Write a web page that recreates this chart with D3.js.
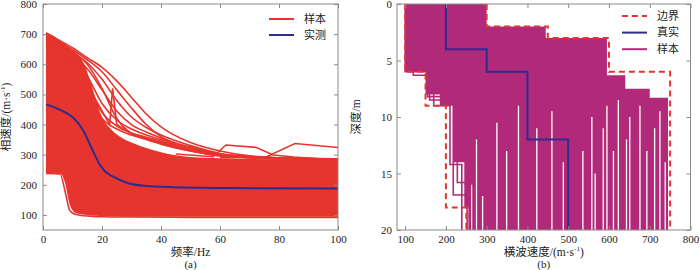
<!DOCTYPE html>
<html>
<head>
<meta charset="utf-8">
<script src="https://cdn.jsdelivr.net/npm/d3@7"></script>
<style>
  body { margin: 0; background: #fff; }
  svg { display: block; }
  text { font-family: "Liberation Serif", "Noto Sans CJK SC", serif; fill: #222; }
</style>
</head>
<body>
<svg id="chart" width="700" height="270"></svg>
<script>
// ---- panel (a): phase velocity vs frequency ----
const freqTicks = [0, 20, 40, 60, 80, 100];
const phaseVelTicks = [100, 200, 300, 400, 500, 600, 700, 800];

// measured dispersion curve
const measuredFreq = [1, 6, 10, 13.6, 16, 19.3, 21, 23.8, 28.4, 35, 44, 64, 100];
const measuredVel = [467, 448, 425, 381, 332, 266, 245, 227, 207, 196, 192, 189, 188];

// dense band of sample curves (upper / lower envelope)
const bandFreq = [1, 3, 6, 7.5, 9, 10.5, 12, 14, 16, 18, 20, 23, 26, 30, 35, 40, 45, 50, 60, 70, 80, 90, 100];
const bandUpper = [705, 697, 677, 667, 655, 643, 630, 600, 545, 480, 425, 385, 360, 340, 322, 308, 298, 292, 288, 286, 285, 285, 285];
const bandLower = [238, 238, 237, 205, 136, 110, 104, 101, 99, 97, 96, 95, 95, 94, 94, 94, 94, 94, 94, 94, 94, 94, 94];

// individual sample curves that stand out above the band
const sampleFreq = [1, 5, 10, 15, 20, 25, 30, 35, 40, 50, 60, 70, 80, 90, 100];
const sampleCurves = [
  [705, 682, 655, 622, 590, 545, 490, 435, 392, 340, 312, 296, 290, 287, 286],
  [700, 676, 648, 615, 575, 515, 455, 400, 360, 325, 302, 294, 290, 287, 285],
  [692, 668, 640, 605, 550, 480, 425, 390, 365, 330, 304, 294, 289, 287, 285],
  [684, 660, 628, 585, 515, 445, 400, 375, 355, 322, 300, 292, 288, 286, 285],
  [676, 650, 615, 560, 470, 415, 385, 365, 350, 318, 298, 291, 288, 286, 285],
  [668, 640, 600, 530, 440, 395, 372, 358, 345, 315, 297, 290, 287, 286, 285],
  [660, 628, 585, 500, 420, 385, 365, 352, 338, 312, 296, 290, 287, 286, 285],
  [700, 670, 640, 600, 520, 420, 370, 350, 335, 312, 296, 290, 287, 286, 285]
];
// the odd ones
const spikeFreq = [12, 18, 22.6, 23.6, 25, 30, 40, 50, 60, 80, 100];
const spikeVel = [600, 480, 400, 520, 400, 370, 340, 315, 298, 289, 286];
const bumpAFreq = [45, 57.7, 62, 72.4, 78, 85, 92];
const bumpAVel = [302, 293, 332, 324, 299, 292, 287];
const bumpBFreq = [60, 75.8, 85.4, 100];
const bumpBVel = [290, 293, 337, 324];
const lowestFreq = [1, 5.8, 7.5, 9, 10.5, 12.5, 16, 20, 30, 50, 100];
const lowestVel = [238, 236, 178, 116, 104, 99, 96, 94, 93, 92, 92];

// ---- panel (b): shear velocity vs depth ----
const shearTicks = [100, 200, 300, 400, 500, 600, 700, 800];
const depthTicks = [0, 5, 10, 15, 20];

// true model
const trueBreaks = [0, 4, 6, 12, 20];
const trueVel = [200, 300, 400, 500];
// search bounds
const upperBreaks = [0, 2, 3, 6, 20];
const upperVel = [300, 450, 600, 750];
const lowerBreaks = [0, 6, 9, 18, 20];
const lowerVel = [100, 150, 200, 250];
// extent covered by the sampled models
const sampleMaxBreaks = [0, 2, 3, 6.3, 7.5, 8.3, 20];
const sampleMaxVel = [300, 445, 595, 640, 700, 745];
const sampleMinBreaks = [0, 6, 8, 9, 14, 18, 20];
const sampleMinVel = [100, 150, 185, 218, 245, 255];
// a few sampled models near the slow edge
const edgeModels = [
  { breaks: [0, 6, 8.2, 16.9, 20], vel: [100, 155, 218, 252] },
  { breaks: [0, 5.9, 9, 14.2, 20], vel: [110, 170, 210, 239] },
  { breaks: [0, 6.3, 8.5, 15.8, 20], vel: [120, 160, 228, 260] },
  { breaks: [0, 3, 7.6, 13, 20], vel: [130, 180, 240, 270] }
];
// velocities where no sampled half-space falls (white streaks), and the depth they start at
const gapVel = [263, 275, 290, 325, 349, 378, 423, 460, 488, 536, 558, 566, 586, 595, 611, 623, 643, 651, 676, 693, 712, 725, 738];
const gapTop = [16, 12, 17, 10.5, 13, 9, 11, 9.5, 14, 13, 10, 15, 11, 9, 13, 8.5, 12, 10, 9, 13, 11, 9.5, 14];

const red = "#e6352e";
const navy = "#2c2d8c";
const magenta = "#b12a7a";
const axisGray = "#8a8a8a";

const svg = d3.select("#chart");

function drawFrame(g, x, y, w, h, xTicks, yTicks, pad) {
  const inner = -4;
  g.append("g")
    .attr("transform", `translate(0,${h})`)
    .call(d3.axisBottom(x).tickValues(xTicks).tickSizeInner(inner).tickSizeOuter(0).tickPadding(5))
    .call(a => a.select(".domain").remove());
  g.append("g")
    .call(d3.axisTop(x).tickValues(xTicks).tickSizeInner(inner).tickSizeOuter(0).tickFormat(""))
    .call(a => a.select(".domain").remove());
  g.append("g")
    .call(d3.axisLeft(y).tickValues(yTicks).tickSizeInner(inner).tickSizeOuter(0).tickPadding(pad))
    .call(a => a.select(".domain").remove());
  g.append("g")
    .attr("transform", `translate(${w},0)`)
    .call(d3.axisRight(y).tickValues(yTicks).tickSizeInner(inner).tickSizeOuter(0).tickFormat(""))
    .call(a => a.select(".domain").remove());
  g.selectAll(".tick line").attr("stroke", axisGray);
  g.selectAll(".tick text").attr("font-size", 11).attr("font-family", "Liberation Serif").attr("fill", "#222");
  g.append("rect")
    .attr("width", w).attr("height", h)
    .attr("fill", "none").attr("stroke", axisGray).attr("stroke-width", 1);
}

function legend(g, items, x0, y0, dy) {
  items.forEach((it, i) => {
    const yy = y0 + i * dy;
    g.append("line")
      .attr("x1", x0).attr("x2", x0 + 25).attr("y1", yy).attr("y2", yy)
      .attr("stroke", it.color).attr("stroke-width", 2)
      .attr("stroke-dasharray", it.dash || null);
    g.append("text")
      .attr("x", x0 + 35).attr("y", yy).attr("dy", "0.35em")
      .attr("font-size", 11).attr("font-family", "Noto Sans CJK SC")
      .text(it.label);
  });
}

// ================= panel (a) =================
const A = { left: 43, top: 4, w: 295, h: 226 };
const xA = d3.scaleLinear().domain([0, 100]).range([0, A.w]);
const yA = d3.scaleLinear().domain([50, 800]).range([A.h, 0]);
const gA = svg.append("g").attr("transform", `translate(${A.left},${A.top})`);

gA.append("clipPath").attr("id", "clipA")
  .append("rect").attr("width", A.w).attr("height", A.h);
const plotA = gA.append("g").attr("clip-path", "url(#clipA)");

const band = bandFreq.map((f, i) => ({ f, hi: bandUpper[i], lo: bandLower[i] }));
plotA.append("path")
  .attr("d", d3.area().curve(d3.curveMonotoneX)
    .x(d => xA(d.f)).y0(d => yA(d.lo)).y1(d => yA(d.hi))(band))
  .attr("fill", red);

const smooth = d3.line().curve(d3.curveMonotoneX).x(d => xA(d[0])).y(d => yA(d[1]));
const straight = d3.line().x(d => xA(d[0])).y(d => yA(d[1]));
const zip = (fs, vs) => fs.map((f, i) => [f, vs[i]]);

plotA.selectAll(".sample")
  .data(sampleCurves)
  .join("path")
  .attr("class", "sample")
  .attr("d", c => smooth(zip(sampleFreq, c)))
  .attr("fill", "none").attr("stroke", red).attr("stroke-width", 1.6);

[[spikeFreq, spikeVel], [bumpAFreq, bumpAVel], [bumpBFreq, bumpBVel]].forEach(([fs, vs]) => {
  plotA.append("path")
    .attr("d", straight(zip(fs, vs)))
    .attr("fill", "none").attr("stroke", red).attr("stroke-width", 1.6);
});
plotA.append("path")
  .attr("d", smooth(zip(lowestFreq, lowestVel)))
  .attr("fill", "none").attr("stroke", red).attr("stroke-width", 1.6);

plotA.append("path")
  .attr("d", smooth(zip(measuredFreq, measuredVel)))
  .attr("fill", "none").attr("stroke", navy).attr("stroke-width", 2);

drawFrame(gA, xA, yA, A.w, A.h, freqTicks, phaseVelTicks, 6);

legend(gA, [
  { label: "样本", color: red },
  { label: "实测", color: navy }
], 226, 15, 16);

gA.append("text")
  .attr("x", A.w / 2).attr("y", A.h + 26)
  .attr("text-anchor", "middle").attr("font-size", 11.5)
  .text("频率/Hz");
gA.append("text")
  .attr("x", A.w / 2).attr("y", A.h + 37.5)
  .attr("text-anchor", "middle").attr("font-size", 11)
  .text("(a)");
const yLabA = gA.append("text")
  .attr("transform", `translate(${-33},${A.h / 2}) rotate(-90)`)
  .attr("text-anchor", "middle").attr("font-size", 11.5);
yLabA.append("tspan").text("相速度/(m·s");
yLabA.append("tspan").attr("font-size", 7).attr("dy", -5).text("-1");
yLabA.append("tspan").attr("dy", 5).text(")");

// ================= panel (b) =================
const B = { left: 397, top: 4, w: 293.5, h: 226 };
const xB = d3.scaleLinear().domain([80, 800]).range([0, B.w]);
const yB = d3.scaleLinear().domain([0, 20]).range([0, B.h]);
const gB = svg.append("g").attr("transform", `translate(${B.left},${B.top})`);

gB.append("clipPath").attr("id", "clipB")
  .append("rect").attr("width", B.w).attr("height", B.h);
const plotB = gB.append("g").attr("clip-path", "url(#clipB)");

// layered model -> staircase vertices [velocity, depth]
const stepPoints = (breaks, vels) => {
  const pts = [];
  vels.forEach((v, i) => pts.push([v, breaks[i]], [v, breaks[i + 1]]));
  return pts;
};
const profile = d3.line().x(d => xB(d[0])).y(d => yB(d[1]));

const cover = stepPoints(sampleMaxBreaks, sampleMaxVel)
  .concat(stepPoints(sampleMinBreaks, sampleMinVel).reverse());
plotB.append("path")
  .attr("d", profile(cover) + "Z")
  .attr("fill", magenta);

// streaks of white between the sampled half-space velocities
plotB.selectAll(".gap")
  .data(gapVel)
  .join("line")
  .attr("class", "gap")
  .attr("x1", v => xB(v)).attr("x2", v => xB(v))
  .attr("y1", (v, i) => yB(gapTop[i])).attr("y2", yB(20))
  .attr("stroke", "#fff").attr("stroke-width", 1.3);

plotB.selectAll(".model")
  .data(edgeModels)
  .join("path")
  .attr("class", "model")
  .attr("d", m => profile(stepPoints(m.breaks, m.vel)))
  .attr("fill", "none").attr("stroke", magenta).attr("stroke-width", 1.6);

[[upperBreaks, upperVel], [lowerBreaks, lowerVel]].forEach(([b, v]) => {
  plotB.append("path")
    .attr("d", profile(stepPoints(b, v)))
    .attr("fill", "none").attr("stroke", red).attr("stroke-width", 2)
    .attr("stroke-dasharray", "6,4");
});

plotB.append("path")
  .attr("d", profile(stepPoints(trueBreaks, trueVel)))
  .attr("fill", "none").attr("stroke", navy).attr("stroke-width", 2);

drawFrame(gB, xB, yB, B.w, B.h, shearTicks, depthTicks, 5);

legend(gB, [
  { label: "边界", color: red, dash: "6,4" },
  { label: "真实", color: navy },
  { label: "样本", color: magenta }
], 225, 12, 16.6);

const xLabB = gB.append("text")
  .attr("x", B.w / 2).attr("y", B.h + 26)
  .attr("text-anchor", "middle").attr("font-size", 11.5);
xLabB.append("tspan").text("横波速度/(m·s");
xLabB.append("tspan").attr("font-size", 7).attr("dy", -5).text("-1");
xLabB.append("tspan").attr("dy", 5).text(")");
gB.append("text")
  .attr("x", B.w / 2).attr("y", B.h + 37.5)
  .attr("text-anchor", "middle").attr("font-size", 11)
  .text("(b)");
gB.append("text")
  .attr("transform", `translate(${-37},${B.h / 2}) rotate(-90)`)
  .attr("text-anchor", "middle").attr("font-size", 11.5)
  .text("深度/m");
</script>
</body>
</html>
